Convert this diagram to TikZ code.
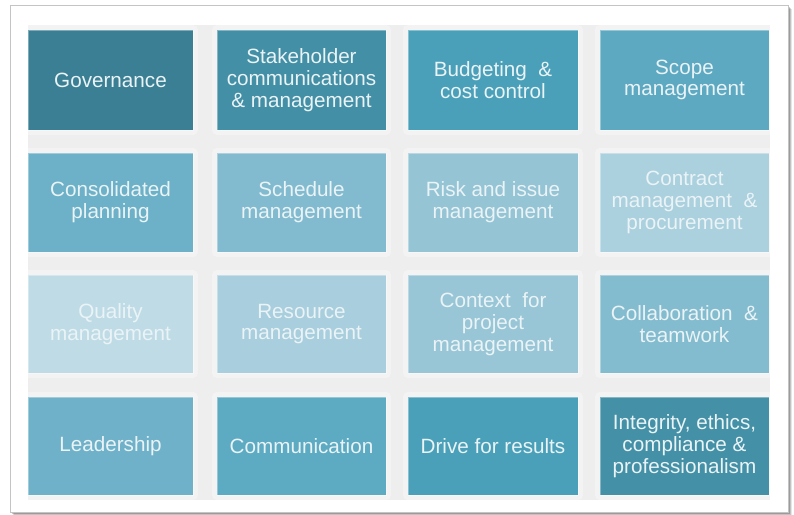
\documentclass[tikz,border=0pt]{standalone}
\usepackage{fontspec}
\setmainfont{Liberation Sans}
\definecolor{panelgray}{HTML}{EEEEEE}
\definecolor{framegray}{HTML}{C4C4C4}
\definecolor{tiletext}{HTML}{EAF3F6}
\definecolor{cGov}{HTML}{3A7F94}
\definecolor{cStake}{HTML}{438FA5}
\definecolor{cBudget}{HTML}{4AA0B9}
\definecolor{cScope}{HTML}{5DA9C2}
\definecolor{cCons}{HTML}{6CB1C8}
\definecolor{cSched}{HTML}{82BBCF}
\definecolor{cRisk}{HTML}{95C4D5}
\definecolor{cContract}{HTML}{ABD0DE}
\definecolor{cQuality}{HTML}{BFDCE6}
\definecolor{cResource}{HTML}{A9CEDD}
\definecolor{cContext}{HTML}{98C6D6}
\definecolor{cCollab}{HTML}{84BCCF}
\definecolor{cLead}{HTML}{6FB1C8}
\definecolor{cComm}{HTML}{5DAAC3}
\definecolor{cDrive}{HTML}{4BA0B9}
\definecolor{cIntegrity}{HTML}{4490A6}
\tikzset{
  tile/.style={rectangle, inner sep=0pt, align=center,
    preaction={draw=white, line width=7.5pt, line join=round},
    draw=white, draw opacity=0.35, line width=0.6pt,
    text=tiletext, font=\fontsize{15.5}{16.3}\selectfont},
}
% \tilebox{name}{colour}{left}{top}{right}{bottom}{label}
\newcommand\tilebox[7]{%
  \node[tile, fill=#2,
        minimum width={(#5-#3)*0.75pt}, minimum height={(#6-#4)*0.75pt}]
        (#1) at ({(#3+#5)/2},{(#4+#6)/2}) {#7};}
\begin{document}
\begin{tikzpicture}[x=0.75pt,y=-0.75pt]
\useasboundingbox (0,0) rectangle (794,515);
\fill[white] (0,0) rectangle (794,515);
% drop shadow of the outer frame
\foreach \o/\op in {4/0.10,3/0.15,2/0.2,1/0.25}
  \fill[black, opacity=\op] (10+\o,5+\o) rectangle (788+\o,512+\o);
\fill[white] (10,5) rectangle (788,512);
\draw[framegray, line width=0.75pt] (10,5) rectangle (788,512);
% grey panel behind the tiles
\fill[panelgray] (28,25) rectangle (770,500);
\begin{scope}
\clip (28,25) rectangle (770,500);
% row 1
\tilebox{gov}{cGov}{28}{30}{193}{130}{Governance}
\tilebox{stake}{cStake}{217}{30}{386}{130}{Stakeholder\\communications\\\& management}
\tilebox{budget}{cBudget}{408}{30}{578}{130}{Budgeting~~\&\\cost control}
\tilebox{scope}{cScope}{600}{30}{769}{130}{Scope\\management}
% row 2
\tilebox{cons}{cCons}{28}{153}{193}{252}{Consolidated\\planning}
\tilebox{sched}{cSched}{217}{153}{386}{252}{Schedule\\management}
\tilebox{risk}{cRisk}{408}{153}{578}{252}{Risk and issue\\management}
\tilebox{contract}{cContract}{600}{153}{769}{252}{Contract\\management~~\&\\procurement}
% row 3
\tilebox{quality}{cQuality}{28}{275}{193}{373}{Quality\\management}
\tilebox{resource}{cResource}{217}{275}{386}{373}{Resource\\management}
\tilebox{context}{cContext}{408}{275}{578}{373}{Context~~for\\project\\management}
\tilebox{collab}{cCollab}{600}{275}{769}{373}{Collaboration~~\&\\teamwork}
% row 4
\tilebox{lead}{cLead}{28}{397}{193}{495}{Leadership}
\tilebox{comm}{cComm}{217}{397}{386}{495}{Communication}
\tilebox{drive}{cDrive}{408}{397}{578}{495}{Drive for results}
\tilebox{integrity}{cIntegrity}{600}{397}{769}{495}{Integrity, ethics,\\compliance \&\\professionalism}
\end{scope}
\end{tikzpicture}
\end{document}
